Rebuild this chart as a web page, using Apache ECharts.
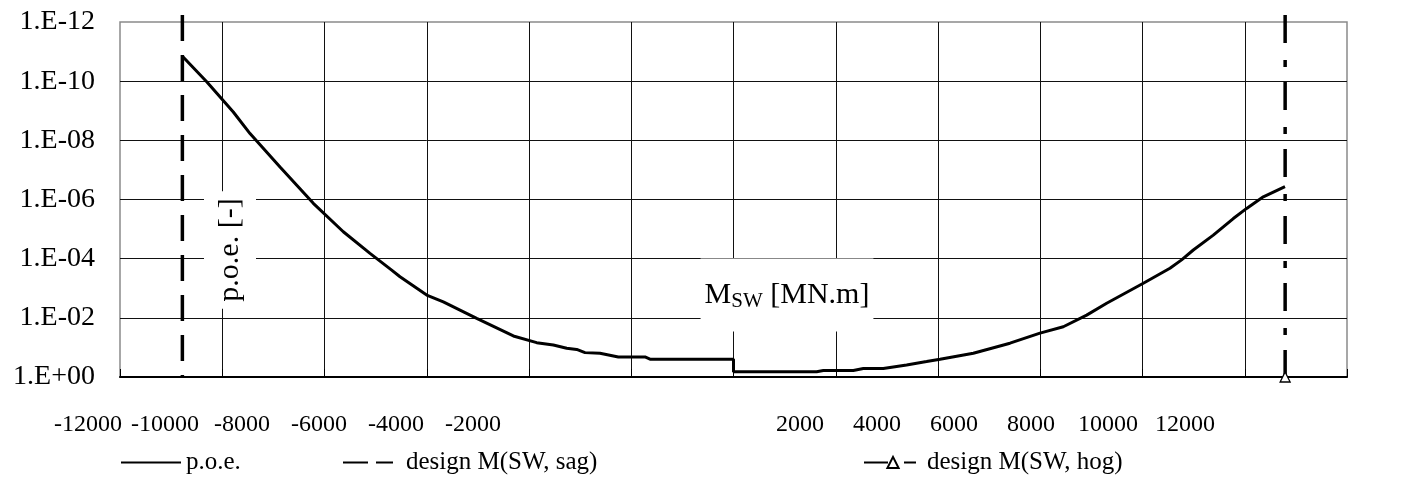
<!DOCTYPE html>
<html><head><meta charset="utf-8">
<script src="https://cdn.jsdelivr.net/npm/echarts@6/dist/echarts.min.js"></script>
<style>html,body{margin:0;padding:0;background:#fff;}#c{width:1405px;height:486px;}</style>
</head><body><div id="c"></div>
<script>
// ---- data ----
const poeM = [-10770, -10304, -9784, -9457, -8870, -8219, -7632, -7110, -6686, -6523, -6001, -5676, -5023, -4306, -3850, -3524, -3263, -3067, -2905, -2611, -2253, -1731, -1633, 0, 0, 1627, 1757, 2344, 2539, 2930, 3386, 3777, 4040, 4691, 5408, 5995, 6451, 6908, 7299, 8016, 8537, 8765, 8994, 9385, 9776, 10037, 10363, 10787];
const poeP = [1.5e-11, 1.05e-10, 1.1e-9, 5.9e-9, 7.9e-8, 1.35e-6, 1.23e-5, 6.6e-5, 2.45e-4, 4.1e-4, 1.7e-3, 2.9e-3, 1.05e-2, 4.1e-2, 6.9e-2, 8.3e-2, 0.107, 0.117, 0.15, 0.158, 0.21, 0.21, 0.25, 0.25, 0.66, 0.66, 0.6, 0.6, 0.52, 0.52, 0.39, 0.30, 0.25, 0.158, 0.072, 0.033, 0.020, 8.1e-3, 3.2e-3, 6.8e-4, 2.1e-4, 1.1e-4, 5.1e-5, 1.6e-5, 4.4e-6, 2.0e-6, 8.1e-7, 3.7e-7];
const sagM = -10780;
const hogM = 10790;
const designP = [5.8e-13, 1];   // top (beyond axis) and bottom of the design lines
const xTickLabels = ['-12000', '-10000', '-8000', '-6000', '-4000', '-2000', '2000', '4000', '6000', '8000', '10000', '12000'];
const yTickLabels = ['1.E-12', '1.E-10', '1.E-08', '1.E-06', '1.E-04', '1.E-02', '1.E+00'];
const seriesNames = ['p.o.e.', 'design M(SW, sag)', 'design M(SW, hog)'];
const xTitleMain = 'M', xTitleSub = 'SW', xTitleRest = ' [MN.m]';
const yTitle = 'p.o.e. [-]';

// ---- chart ----
const FONT = 'Liberation Serif';
const chart = echarts.init(document.getElementById('c'));
const poeData = poeM.map((m, i) => [m, poeP[i]]);

// tick labels are laid out evenly with a gap where 0 would be
const labelMap = {};
xTickLabels.forEach((t, i) => { const pos = i < 6 ? i : i + 3.25; labelMap[Math.round(pos * 4)] = t; });

const legendText = {fontFamily: FONT, fontSize: 25, color: '#000'};

const option = {
  animation: false,
  backgroundColor: '#fff',
  grid: [
    {left: 120, right: 58, top: 22, bottom: 109, show: true, borderColor: '#8a8a8a', borderWidth: 1.5},
    {left: 88, right: 220, top: 22, bottom: 109}
  ],
  xAxis: [
    {
      gridIndex: 0, type: 'value', min: -12000, max: 12000, interval: 2000,
      axisLabel: {show: false},
      axisLine: {show: true, lineStyle: {color: '#000', width: 2}},
      axisTick: {show: true, inside: true, length: 8, lineStyle: {color: '#000'}},
      splitLine: {show: true, showMinLine: false, showMaxLine: false, lineStyle: {color: '#111', width: 1}}
    },
    {
      gridIndex: 1, type: 'value', min: 0, max: 14.25, interval: 0.25,
      axisLine: {show: false}, axisTick: {show: false}, splitLine: {show: false},
      axisLabel: {
        show: true, margin: 36, fontFamily: FONT, fontSize: 24, color: '#000',
        formatter: v => labelMap[Math.round(v * 4)] || ''
      }
    }
  ],
  yAxis: [
    {
      gridIndex: 0, type: 'log', logBase: 10, inverse: true, min: 1e-12, max: 1, interval: 2,
      axisLine: {show: false}, axisTick: {show: false},
      splitLine: {show: true, showMinLine: false, showMaxLine: false, lineStyle: {color: '#111', width: 1}},
      axisLabel: {
        margin: 25, fontFamily: FONT, fontSize: 28, color: '#000',
        formatter: v => {
          const e = Math.round(Math.log10(v));
          return yTickLabels[(e + 12) / 2] || '';
        }
      }
    },
    {gridIndex: 1, type: 'value', show: false, min: 0, max: 1}
  ],
  legend: [
    {data: [seriesNames[0]], left: 120, top: 450, padding: 0, itemWidth: 60, itemHeight: 14, itemStyle: {opacity: 0}, textStyle: legendText},
    {data: [seriesNames[1]], left: 342, top: 450, padding: 0, itemWidth: 58, itemHeight: 14, itemStyle: {opacity: 0},
     lineStyle: {type: [25, 8, 17, 100]}, textStyle: legendText},
    {data: [seriesNames[2]], left: 863, top: 450, padding: 0, itemWidth: 58, itemHeight: 14,
     lineStyle: {type: [24, 16, 12, 100]}, textStyle: legendText}
  ],
  series: [
    {
      name: seriesNames[0], type: 'line', xAxisIndex: 0, yAxisIndex: 0, data: poeData,
      symbol: 'none', lineStyle: {color: '#000', width: 3}, itemStyle: {color: '#000'}, z: 5
    },
    {
      name: seriesNames[1], type: 'line', xAxisIndex: 0, yAxisIndex: 0, clip: false,
      data: [[sagM, designP[0]], [sagM, designP[1]]],
      symbol: 'none', lineStyle: {color: '#000', width: 3.5, type: [26, 14]}, itemStyle: {color: '#000'}, z: 4
    },
    {
      name: seriesNames[2], type: 'line', xAxisIndex: 0, yAxisIndex: 0, clip: false,
      data: [{value: [hogM, designP[0]], symbol: 'none'}, {value: [hogM, designP[1]]}],
      symbol: 'triangle', symbolSize: 10,
      itemStyle: {color: '#fff', borderColor: '#000', borderWidth: 1.3},
      lineStyle: {color: '#000', width: 3.5, type: [28, 17, 7, 15]}, z: 4
    }
  ],
  graphic: [
    {
      type: 'text', x: 230, y: 250, rotation: Math.PI / 2, z: 100,
      style: {
        text: yTitle, fontFamily: FONT, fontSize: 30, fill: '#000',
        align: 'center', verticalAlign: 'middle', backgroundColor: '#fff', padding: [11, 7]
      }
    },
    {
      type: 'text', x: 787, y: 295, z: 100,
      style: {
        text: '{m|' + xTitleMain + '}{s|' + xTitleSub + '}{m|' + xTitleRest + '}',
        rich: {
          m: {fontFamily: FONT, fontSize: 30, fill: '#000'},
          s: {fontFamily: FONT, fontSize: 21, fill: '#000', padding: [12, 0, 0, 0]}
        },
        align: 'center', verticalAlign: 'middle', backgroundColor: '#fff', padding: [20, 4]
      }
    }
  ]
};
chart.setOption(option);
</script>
</body></html>
